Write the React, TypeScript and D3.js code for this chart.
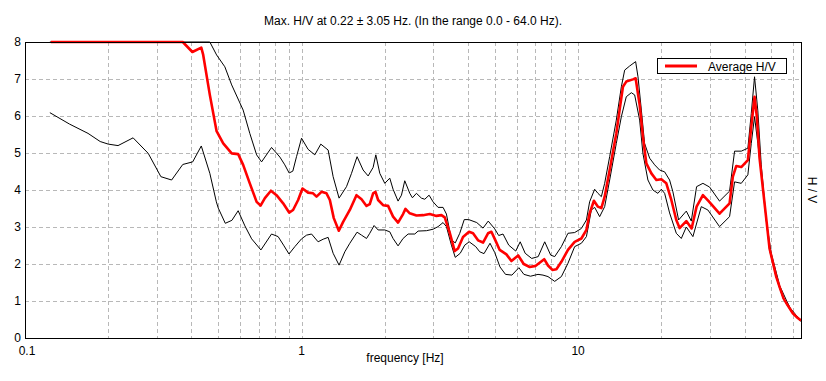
import React from "react";
import * as d3 from "d3";

// ---------- data ----------
const avgFreq = [0.124,0.187,0.283,0.372,0.403,0.434,0.441,0.466,0.493,0.521,0.559,0.590,0.615,0.650,0.688,0.711,0.737,0.775,0.812,0.858,0.902,0.932,0.972,1.008,1.056,1.101,1.133,1.181,1.231,1.266,1.308,1.364,1.414,1.495,1.580,1.648,1.718,1.765,1.815,1.851,1.892,1.972,2.056,2.143,2.234,2.329,2.376,2.463,2.603,2.751,2.909,3.075,3.206,3.295,3.436,3.581,3.681,3.837,4.034,4.171,4.348,4.533,4.725,4.860,4.996,5.208,5.507,5.741,6.075,6.360,6.686,7.028,7.543,7.785,8.075,8.349,8.703,9.193,9.721,10.28,10.72,11.01,11.41,11.80,12.14,12.48,13.01,13.75,14.13,14.53,14.94,15.79,16.15,16.70,17.16,17.66,18.41,19.19,20.00,20.85,21.74,22.66,23.29,24.63,25.74,26.83,28.28,29.65,32.48,35.31,36.29,37.34,38.92,41.12,42.30,43.47,44.31,45.32,47.25,49.25,52.07,53.54,55.34,57.21,59.77,61.66,64.0];
const avgHV = [9.5,10.2,9.6,8.0,7.73,7.85,7.65,6.57,5.59,5.26,4.99,4.97,4.68,4.18,3.68,3.58,3.78,3.98,3.86,3.64,3.39,3.46,3.73,4.04,3.93,3.91,3.82,3.95,3.91,3.73,3.24,2.90,3.14,3.46,3.86,3.75,3.57,3.62,3.91,3.95,3.73,3.59,3.57,3.28,3.12,3.35,3.49,3.37,3.31,3.32,3.35,3.30,3.32,3.26,2.84,2.35,2.42,2.73,2.87,2.83,2.64,2.58,2.83,2.87,2.68,2.38,2.26,2.08,2.23,2.00,1.92,1.95,2.13,1.96,1.84,1.86,2.06,2.38,2.60,2.69,2.92,3.37,3.71,3.55,3.51,3.82,4.54,5.53,6.16,6.79,6.93,6.99,7.02,6.30,5.44,4.72,4.45,4.27,4.29,4.18,3.73,3.19,2.97,3.16,2.96,3.55,3.86,3.70,3.36,3.64,4.36,4.65,4.62,4.81,5.71,6.52,5.98,4.86,3.64,2.42,1.66,1.38,1.07,0.89,0.67,0.57,0.47];

const upperFreq = [0.123,0.283,0.429,0.466,0.493,0.528,0.559,0.615,0.650,0.688,0.717,0.779,0.835,0.870,0.902,0.930,0.959,1.000,1.056,1.117,1.174,1.248,1.301,1.367,1.454,1.516,1.588,1.670,1.741,1.815,1.856,1.919,2.000,2.085,2.143,2.234,2.298,2.362,2.463,2.518,2.603,2.714,2.790,2.892,2.990,3.117,3.249,3.342,3.484,3.596,3.734,3.876,4.024,4.301,4.533,4.733,4.996,5.164,5.353,5.614,5.950,6.176,6.438,6.798,7.175,7.575,7.962,8.232,8.703,9.193,9.721,10.28,10.72,11.01,11.48,11.80,12.14,12.48,13.01,13.75,14.34,14.74,15.36,16.15,16.47,16.94,17.40,18.15,18.92,19.72,20.56,21.43,22.03,23.10,24.63,25.67,26.83,28.28,29.89,32.48,35.31,36.81,38.92,41.12,42.30,43.47,44.68,45.96,47.92,49.95,52.77,53.54,56.59,58.5,60.64,61.66,64.0];
const upperHV = [10.5,11.0,8.6,8.0,7.65,7.33,6.84,6.16,5.53,4.95,4.76,5.15,4.89,4.68,4.46,4.51,4.90,5.40,5.10,4.95,5.24,5.08,4.36,3.78,4.09,4.45,4.90,4.54,4.38,4.61,4.95,4.45,4.18,4.32,4.02,3.70,3.86,4.25,3.91,3.79,3.91,3.78,3.75,3.86,3.68,3.53,3.53,3.35,2.65,2.57,2.83,3.20,3.20,3.12,2.97,3.16,2.95,2.77,2.81,2.51,2.35,2.60,2.29,2.15,2.20,2.60,2.24,2.20,2.47,2.83,2.85,2.96,3.19,3.68,4.02,3.91,3.82,4.18,4.90,5.89,6.79,7.24,7.35,7.47,7.06,6.16,5.26,4.86,4.68,4.54,4.49,4.27,3.95,3.19,3.43,3.16,4.09,4.18,4.08,3.70,3.97,5.05,5.05,5.13,6.07,7.06,6.14,4.68,3.19,2.29,1.61,1.42,1.03,0.81,0.67,0.60,0.49];

const lowerFreq = [0.123,0.145,0.169,0.187,0.200,0.217,0.246,0.279,0.310,0.339,0.372,0.404,0.434,0.466,0.492,0.500,0.530,0.560,0.590,0.624,0.660,0.713,0.779,0.823,0.861,0.901,0.946,1.000,1.043,1.087,1.148,1.197,1.248,1.301,1.367,1.434,1.495,1.588,1.648,1.718,1.765,1.830,1.892,2.000,2.085,2.143,2.234,2.329,2.429,2.568,2.639,2.830,2.990,3.117,3.249,3.342,3.484,3.596,3.749,3.893,4.040,4.265,4.409,4.570,4.804,4.996,5.220,5.465,5.765,6.109,6.370,6.730,7.163,7.467,7.785,8.232,8.703,9.193,9.721,10.28,10.72,11.17,11.48,11.97,12.48,13.01,13.75,14.34,14.94,15.58,16.02,16.70,17.16,17.89,18.65,19.44,20.00,20.56,21.43,22.66,23.62,24.63,26.02,27.90,29.47,32.48,35.31,36.81,38.92,41.12,42.30,43.47,44.68,46.58,47.25,49.25,52.07,53.54,55.34,57.21,59.77,61.66,64.0];
const lowerHV = [6.09,5.78,5.53,5.31,5.24,5.20,5.41,4.99,4.36,4.27,4.69,4.76,5.19,4.45,3.68,3.51,3.10,3.18,3.44,3.03,2.68,2.38,2.81,2.74,2.51,2.27,2.47,2.68,2.78,2.81,2.60,2.67,2.72,2.29,1.97,2.33,2.56,2.86,2.78,2.69,2.83,3.04,2.92,2.92,2.87,2.69,2.49,2.69,2.81,2.81,2.89,2.90,2.94,3.01,3.12,3.01,2.51,2.18,2.29,2.51,2.60,2.47,2.33,2.28,2.56,2.31,1.92,1.72,1.70,1.90,1.72,1.67,1.72,1.70,1.66,1.53,1.66,2.02,2.47,2.56,2.74,3.46,3.53,3.28,3.55,4.27,5.26,5.98,6.52,6.63,6.57,5.89,4.99,4.27,4.00,3.91,4.02,3.91,3.38,2.83,2.69,3.00,2.74,3.55,3.46,3.01,3.28,4.22,4.18,4.41,5.26,5.98,5.26,4.09,3.60,2.38,1.63,1.35,1.05,0.87,0.66,0.55,0.45];

const yTicks = [0, 1, 2, 3, 4, 5, 6, 7, 8];
const xTickValues = [0.1, 1, 10];
const xTickLabels = ["0.1", "1", "10"];
const xGrid = [0.2,0.3,0.4,0.5,0.6,0.7,0.8,0.9,1,2,3,4,5,6,7,8,9,10,20,30,40,50,60];

const titleText = "Max. H/V at 0.22 \u00b1 3.05 Hz. (In the range 0.0 - 64.0 Hz).";
const xLabel = "frequency [Hz]";
const yLabel = "H / V";
const legendLabel = "Average H/V";

export default function App() {
  const W = 826, H = 381;
  const left = 25, right = 801, top = 42, bottom = 338;
  const x = d3.scaleLog().domain([0.1, 64]).range([left, right]);
  const y = d3.scaleLinear().domain([0, 8]).range([bottom, top]).clamp(true);
  const line = d3.line<[number, number]>().x(d => x(d[0])).y(d => y(d[1]));
  const zip = (f: number[], v: number[]) => f.map((ff, i) => [ff, v[i]] as [number, number]);
  const font = "'Liberation Sans', Arial, sans-serif";
  const gridColor = "#b8b8b8";

  return (
    <svg width={W} height={H} style={{ position: "absolute", left: 0, top: 0, background: "#fff" }} fontFamily={font}>
      <rect x={0} y={0} width={W} height={H} fill="#fff" />
      <defs>
        <clipPath id="plotclip">
          <rect x={left} y={top - 2} width={right - left + 1} height={bottom - top + 2} />
        </clipPath>
      </defs>
      {/* grid */}
      <g shapeRendering="crispEdges" stroke={gridColor} strokeDasharray="4,3">
        {xGrid.map(g => (
          <line key={"vx" + g} x1={Math.round(x(g)) + 0.5} x2={Math.round(x(g)) + 0.5} y1={top} y2={bottom} />
        ))}
        {yTicks.filter(t => t > 0 && t < 8).map(t => (
          <line key={"hy" + t} x1={left} x2={right} y1={Math.round(y(t)) + 0.5} y2={Math.round(y(t)) + 0.5} />
        ))}
      </g>
      {/* curves */}
      <g fill="none" clipPath="url(#plotclip)">
        <path d={line(zip(upperFreq, upperHV)) || ""} stroke="#000" strokeWidth={1} />
        <path d={line(zip(lowerFreq, lowerHV)) || ""} stroke="#000" strokeWidth={1} />
        <path d={line(zip(avgFreq, avgHV)) || ""} stroke="#ff0000" strokeWidth={2.6} strokeLinejoin="round" />
      </g>
      {/* frame */}
      <g shapeRendering="crispEdges" stroke="#000" strokeWidth={1}>
        <line x1={left} x2={right + 1} y1={top + 0.5} y2={top + 0.5} strokeWidth={1.5} />
        <line x1={left + 0.5} x2={left + 0.5} y1={top} y2={bottom} />
        <line x1={left} x2={right + 1} y1={bottom + 0.5} y2={bottom + 0.5} />
        <line x1={right + 0.5} x2={right + 0.5} y1={top} y2={bottom} />
      </g>
      {/* y tick labels */}
      <g fontSize={12} fill="#000" textAnchor="end">
        {yTicks.map(t => (
          <text key={"yl" + t} x={left - 4} y={y(t) + 4}>{t}</text>
        ))}
      </g>
      {/* x tick labels */}
      <g fontSize={12} fill="#000" textAnchor="middle">
        {xTickValues.map((v, i) => (
          <text key={"xl" + v} x={x(v) + (i === 0 ? 2 : 0)} y={355}>{xTickLabels[i]}</text>
        ))}
      </g>
      <text x={405} y={362} fontSize={12} textAnchor="middle">{xLabel}</text>
      <text x={413} y={25} fontSize={12} textAnchor="middle">{titleText}</text>
      <text transform={`translate(808, 190) rotate(90)`} fontSize={12} textAnchor="middle">{yLabel}</text>
      {/* legend */}
      <g>
        <rect x={657.5} y={58.5} width={129} height={15} fill="#fff" stroke="#000" shapeRendering="crispEdges" />
        <line x1={665} x2={697} y1={66} y2={66} stroke="#ff0000" strokeWidth={3} />
        <text x={708} y={70.5} fontSize={12}>{legendLabel}</text>
      </g>
    </svg>
  );
}
